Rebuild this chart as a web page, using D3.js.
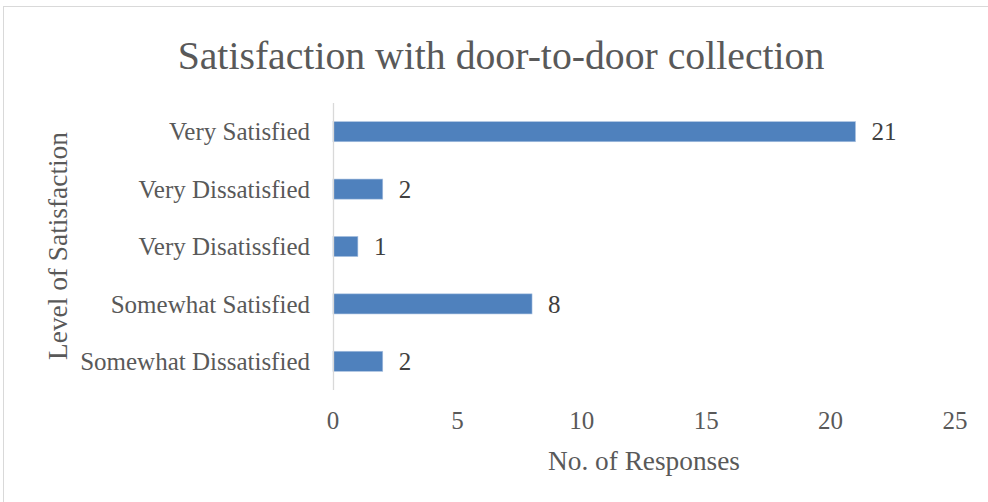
<!DOCTYPE html>
<html>
<head>
<meta charset="utf-8">
<script src="https://cdn.jsdelivr.net/npm/d3@7"></script>
<style>
  html, body { margin: 0; padding: 0; background: #fff; }
  svg { display: block; }
  text { font-family: "Liberation Serif", "DejaVu Serif", serif; fill: #595959; }
</style>
</head>
<body>
<svg id="chart" width="988" height="502"></svg>
<script>
const categories = ["Very Satisfied", "Very Dissatisfied", "Very Disatissfied", "Somewhat Satisfied", "Somewhat Dissatisfied"];
const values = [21, 2, 1, 8, 2];
const xTicks = [0, 5, 10, 15, 20, 25];
const title = "Satisfaction with door-to-door collection";
const xTitle = "No. of Responses";
const yTitle = "Level of Satisfaction";

const svg = d3.select("#chart");

// chart border (extends past the bottom/right of the viewport)
svg.append("rect").attr("x", 3.5).attr("y", 6.5).attr("width", 1000).attr("height", 520)
  .attr("fill", "none").attr("stroke", "#d9d9d9").attr("stroke-width", 1);

const plot = { left: 333, right: 955, top: 103, bottom: 390 };

const x = d3.scaleLinear().domain([0, 25]).range([plot.left, plot.right]);
const y = d3.scaleBand().domain(categories).range([plot.top, plot.bottom]).paddingInner(0.65).paddingOuter(0.325);

function fit(sel, width) {
  const w = sel.node().getComputedTextLength();
  const fs = parseFloat(sel.attr("font-size"));
  sel.attr("font-size", fs * width / w);
}

// bars
svg.append("g").selectAll("rect").data(values).join("rect")
  .attr("x", x(0))
  .attr("y", (d, i) => y(categories[i]))
  .attr("width", d => x(d) - x(0))
  .attr("height", y.bandwidth())
  .attr("fill", "#4f81bd")
  .attr("stroke", "#a9c0e0").attr("stroke-width", 0.6);

// y axis line
svg.append("line").attr("x1", plot.left + 0.5).attr("x2", plot.left + 0.5)
  .attr("y1", plot.top).attr("y2", plot.bottom)
  .attr("stroke", "#d9d9d9").attr("stroke-width", 1.3);

// category labels
const catG = svg.append("g");
catG.selectAll("text").data(categories).join("text")
  .attr("x", 310)
  .attr("y", d => y(d) + y.bandwidth() / 2)
  .attr("dy", "0.35em")
  .attr("text-anchor", "end")
  .attr("font-size", 20)
  .text(d => d);
{
  const t = catG.selectAll("text").filter(d => d === "Somewhat Dissatisfied");
  const w = t.node().getComputedTextLength();
  catG.selectAll("text").attr("font-size", 20 * 230 / w);
}

// value labels
svg.append("g").selectAll("text").data(values).join("text")
  .attr("x", d => x(d) + 16)
  .attr("y", (d, i) => y(categories[i]) + y.bandwidth() / 2)
  .attr("dy", "0.35em")
  .attr("font-size", 25)
  .style("fill", "#404040")
  .text(d => d);

// x tick labels
svg.append("g").selectAll("text").data(xTicks).join("text")
  .attr("x", d => x(d))
  .attr("y", 420)
  .attr("dy", "0.35em")
  .attr("text-anchor", "middle")
  .attr("font-size", 25)
  .text(d => d);

// titles
const tt = svg.append("text").attr("x", 501).attr("y", 55).attr("dy", "0.35em")
  .attr("text-anchor", "middle").attr("font-size", 32).text(title);
fit(tt, 647);

const xt = svg.append("text").attr("x", 644).attr("y", 460).attr("dy", "0.35em")
  .attr("text-anchor", "middle").attr("font-size", 22).text(xTitle);
fit(xt, 192);

const yt = svg.append("text").attr("transform", "translate(57,246) rotate(-90)").attr("dy", "0.35em")
  .attr("text-anchor", "middle").attr("font-size", 24).text(yTitle);
fit(yt, 228);
</script>
</body>
</html>
